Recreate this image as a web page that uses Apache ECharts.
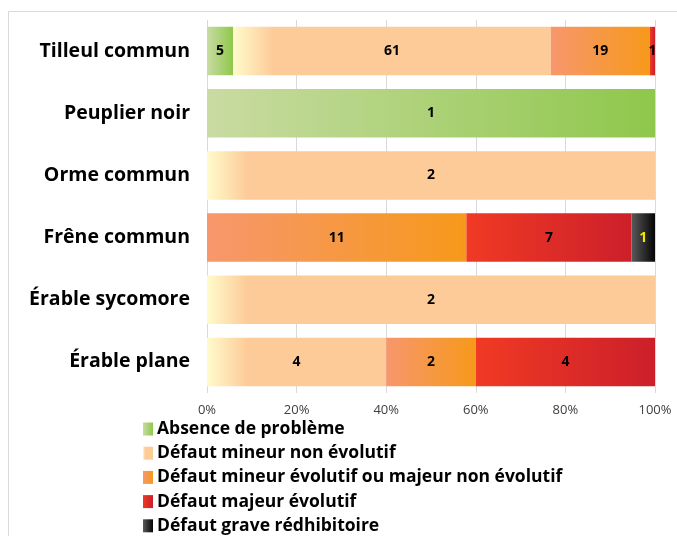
<!DOCTYPE html>
<html lang="fr">
<head>
    <meta charset="UTF-8">
    <title>Etat sanitaire par essence</title>
    <script src="https://cdn.jsdelivr.net/npm/echarts@6/dist/echarts.min.js"></script>
    <style>
        html, body { margin: 0; padding: 0; background: #fff; }
        #chart { width: 677px; height: 536px; }
    </style>
</head>
<body>
<div id="chart"></div>
<script>
    // essences (de haut en bas)
    var especes = ['Tilleul commun', 'Peuplier noir', 'Orme commun', 'Frêne commun', 'Érable sycomore', 'Érable plane'];
    // effectifs par classe d'état
    var absence      = [5, 1, 0, 0, 0, 0];
    var mineurNonEvo = [61, 0, 2, 0, 2, 4];
    var mineurEvo    = [19, 0, 0, 11, 0, 2];
    var majeurEvo    = [1, 0, 0, 7, 0, 4];
    var grave        = [0, 0, 0, 1, 0, 0];
    var ticks = [0, 20, 40, 60, 80, 100];

    var classes = [
        { nom: 'Absence de problème', data: absence, c1: '#c9dba2', c2: '#8fc74c' },
        { nom: 'Défaut mineur non évolutif', data: mineurNonEvo, c1: '#fffbcc', c2: '#fdcb98' },
        { nom: 'Défaut mineur évolutif ou majeur non évolutif', data: mineurEvo, c1: '#f7976d', c2: '#f6991a' },
        { nom: 'Défaut majeur évolutif', data: majeurEvo, c1: '#f03a24', c2: '#cc1f2a' },
        { nom: 'Défaut grave rédhibitoire', data: grave, c1: '#5a5a5a', c2: '#050505' }
    ];

    var totaux = especes.map(function (e, i) {
        var t = 0;
        classes.forEach(function (c) { t += c.data[i]; });
        return t;
    });

    function grad(c1, c2, stop) {
        return new echarts.graphic.LinearGradient(0, 0, 1, 0, [
            { offset: 0, color: c1 },
            { offset: stop, color: c2 },
            { offset: 1, color: c2 }
        ]);
    }

    var series = classes.map(function (c, k) {
        return {
            name: c.nom,
            type: 'bar',
            stack: 'total',
            barCategoryGap: '22%',
            itemStyle: { color: k === 1 ? grad(c.c1, c.c2, 0.2) : grad(c.c1, c.c2, 1) },
            label: {
                show: true,
                position: 'inside',
                fontFamily: 'Open Sans',
                fontWeight: 'bold',
                fontSize: 14,
                color: '#000',
                formatter: function (p) { return p.data.n > 0 ? String(p.data.n) : ''; }
            },
            data: c.data.map(function (n, i) {
                var f = n / totaux[i];
                var d = { value: f * 100, n: n };
                if (k === 1 && f > 0) {
                    d.itemStyle = { color: grad(c.c1, c.c2, Math.min(1, 0.09 / f)) };
                }
                if (k === 4 && n > 0) {
                    d.label = { color: '#f2e600' };
                }
                return d;
            })
        };
    });

    var chart = echarts.init(document.getElementById('chart'));
    chart.setOption({
        animation: false,
        backgroundColor: '#fff',
        graphic: [{
            type: 'rect',
            shape: { x: 8.5, y: 11.5, width: 720, height: 600 },
            style: { fill: 'none', stroke: '#d9d9d9', lineWidth: 1 },
            silent: true
        }],
        legend: {
            orient: 'vertical',
            left: 143,
            top: 420,
            height: 200,
            padding: 0,
            itemWidth: 10,
            itemHeight: 13,
            itemGap: 6.2,
            icon: 'rect',
            textStyle: {
                fontFamily: 'Open Sans', fontWeight: 'bold', fontSize: 17.5,
                color: '#000', padding: [0, 0, 0, -1]
            },
            data: classes.map(function (c) { return c.nom; })
        },
        grid: { left: 207, right: 22, top: 20, bottom: 143, containLabel: false },
        xAxis: {
            type: 'value',
            min: ticks[0],
            max: ticks[ticks.length - 1],
            interval: 20,
            axisLine: { show: false },
            axisTick: { show: false },
            splitLine: { lineStyle: { color: '#d9d9d9' } },
            axisLabel: {
                formatter: '{value}%',
                fontFamily: 'Open Sans',
                fontSize: 13,
                color: '#404040',
                margin: 11
            }
        },
        yAxis: {
            type: 'category',
            inverse: true,
            data: especes,
            axisLine: { show: false },
            axisTick: { show: false },
            axisLabel: {
                fontFamily: 'Open Sans',
                fontWeight: 'bold',
                fontSize: 19.5,
                color: '#000',
                margin: 17
            }
        },
        series: series
    });
</script>
</body>
</html>
